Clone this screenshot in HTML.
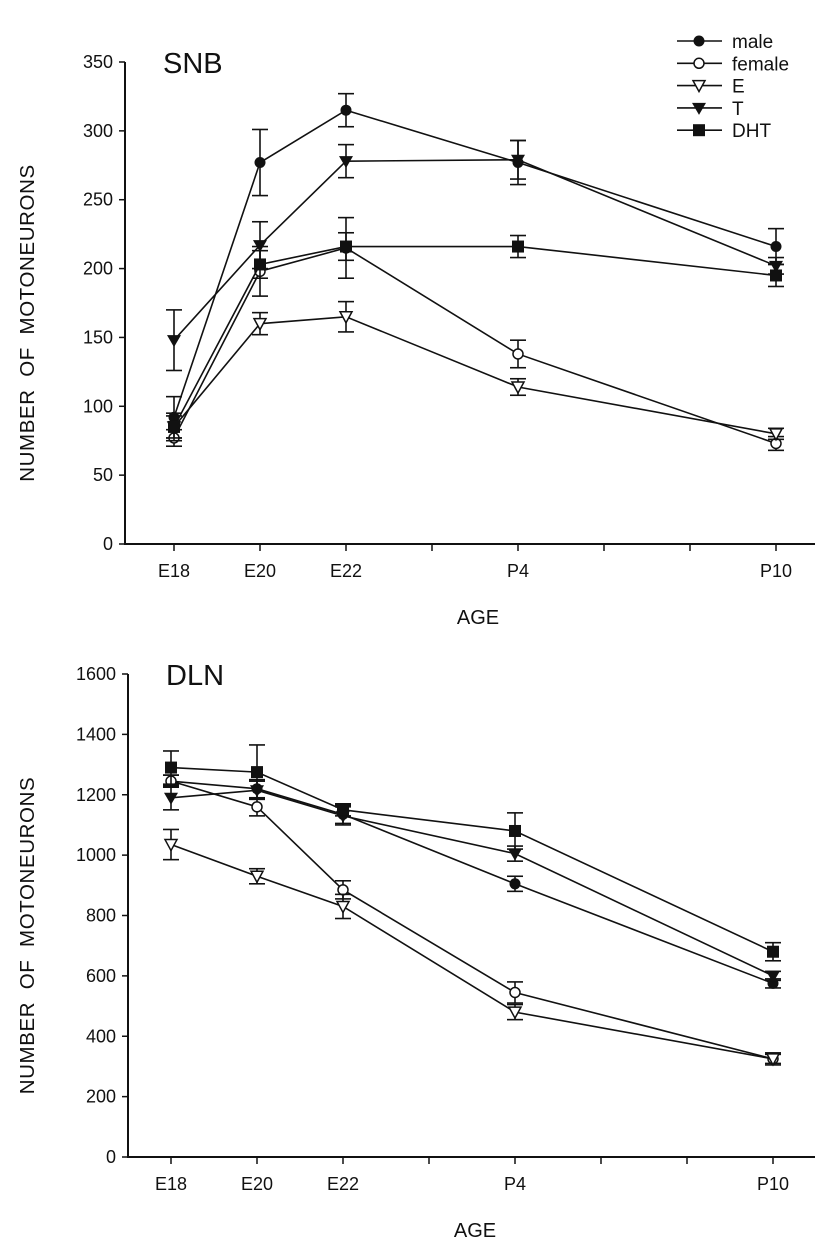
<!DOCTYPE html>
<html><head><meta charset="utf-8"><style>
body{margin:0;background:#fff;}
svg{display:block;font-family:"Liberation Sans",Arial,sans-serif;}
</style></head><body>
<svg id="chart" width="835" height="1255" viewBox="0 0 835 1255"></svg>
<script>
const ages=["E18","E20","E22","P4","P10"];
const agePos=[0,1,2,4,7];
const seriesNames=["male","female","E","T","DHT"];
const snbMale=[92,277,315,277,216];
const snbMaleErr=[15,24,12,16,13];
const snbFemale=[77,198,215,138,73];
const snbFemaleErr=[6,18,22,10,5];
const snbE=[85,160,165,114,80];
const snbEErr=[8,8,11,6,4];
const snbT=[148,217,278,279,202];
const snbTErr=[22,17,12,14,6];
const snbDHT=[85,203,216,216,195];
const snbDHTErr=[10,10,10,8,8];
const dlnMale=[1245,1220,1135,905,575];
const dlnMaleErr=[20,30,30,25,15];
const dlnFemale=[1245,1160,885,545,325];
const dlnFemaleErr=[20,30,30,35,20];
const dlnE=[1035,930,830,480,325];
const dlnEErr=[50,25,40,25,15];
const dlnT=[1190,1215,1130,1005,600];
const dlnTErr=[40,30,30,25,15];
const dlnDHT=[1290,1275,1150,1080,680];
const dlnDHTErr=[55,90,20,60,30];
const snbTicks=[0,50,100,150,200,250,300,350];
const dlnTicks=[0,200,400,600,800,1000,1200,1400,1600];

const NS="http://www.w3.org/2000/svg";
const svg=document.getElementById('chart');
function mk(tag,attrs,parent){const e=document.createElementNS(NS,tag);for(const k in attrs)e.setAttribute(k,attrs[k]);(parent||svg).appendChild(e);return e;}
const markers=["fcircle","ocircle","otri","ftri","fsquare"];
function marker(g,type,x,y){
  let e;
  if(type==="fcircle")e=mk('circle',{cx:x,cy:y,r:5.5,fill:'#111'},g);
  else if(type==="ocircle")e=mk('circle',{cx:x,cy:y,r:5,fill:'#fff',stroke:'#111','stroke-width':1.5},g);
  else if(type==="otri")e=mk('polygon',{points:`${x-6},${y-5} ${x+6},${y-5} ${x},${y+6}`,fill:'#fff',stroke:'#111','stroke-width':1.5},g);
  else if(type==="ftri")e=mk('polygon',{points:`${x-7},${y-5} ${x+7},${y-5} ${x},${y+7}`,fill:'#111'},g);
  else e=mk('rect',{x:x-6,y:y-6,width:12,height:12,fill:'#111'},g);
  
  
}
function panel(cfg){
  const {axX,x0,dx,y0,yTop,yMax,ticks,title,data,errs,name,xEnd}=cfg;
  const g=mk('g',{});
  
  
  const X=i=>x0+agePos[i]*dx;
  const Y=v=>y0-(v/yMax)*(y0-yTop);
  const ya=mk('line',{x1:axX,y1:yTop,x2:axX,y2:y0+1,stroke:'#111','stroke-width':2},g);
  
  const xa=mk('line',{x1:axX-1,y1:y0,x2:xEnd,y2:y0,stroke:'#111','stroke-width':2},g);
  
  ticks.forEach(t=>{
    mk('line',{x1:axX-6,y1:Y(t),x2:axX,y2:Y(t),stroke:'#111','stroke-width':1.5},g);
    const tx=mk('text',{x:axX-12,y:Y(t)+6,'text-anchor':'end','font-size':18,fill:'#111'},g);
    tx.textContent=t;
    
  });
  for(let k=0;k<=7;k++){mk('line',{x1:x0+k*dx,y1:y0,x2:x0+k*dx,y2:y0+7,stroke:'#111','stroke-width':1.5},g);}
  ages.forEach((a,i)=>{
    const tx=mk('text',{x:X(i),y:y0+33,'text-anchor':'middle','font-size':18,fill:'#111'},g);
    tx.textContent=a;
    
  });
  const xt=mk('text',{x:(x0+X(4))/2+3,y:y0+80,'text-anchor':'middle','font-size':20,fill:'#111'},g);
  xt.textContent='AGE';
  const yc=(y0+yTop)/2+20;
  const yt=mk('text',{x:34,y:yc,'text-anchor':'middle','font-size':20.5,fill:'#111','letter-spacing':0.6,transform:`rotate(-90 34 ${yc})`},g);
  yt.textContent='NUMBER\u00a0\u00a0OF\u00a0\u00a0MOTONEURONS';
  const tt=mk('text',{x:axX+38,y:yTop+11,'font-size':29,fill:'#111'},g);
  tt.textContent=title;
  data.forEach((vals,s)=>{
    const sg=mk('g',{},g);
    
    
    const pts=vals.map((v,i)=>X(i)+','+Y(v)).join(' ');
    mk('polyline',{points:pts,fill:'none',stroke:'#111','stroke-width':1.6},sg);
    vals.forEach((v,i)=>{
      const e=errs[s][i],x=X(i);
      mk('line',{x1:x,y1:Y(v-e),x2:x,y2:Y(v+e),stroke:'#111','stroke-width':1.6},sg);
      mk('line',{x1:x-8,y1:Y(v+e),x2:x+8,y2:Y(v+e),stroke:'#111','stroke-width':1.6},sg);
      mk('line',{x1:x-8,y1:Y(v-e),x2:x+8,y2:Y(v-e),stroke:'#111','stroke-width':1.6},sg);
    });
    vals.forEach((v,i)=>marker(sg,markers[s],X(i),Y(v)));
  });
}
panel({name:'snb',axX:125,x0:174,dx:86,y0:544,yTop:62,yMax:350,ticks:snbTicks,title:'SNB',xEnd:815,
  data:[snbMale,snbFemale,snbE,snbT,snbDHT],errs:[snbMaleErr,snbFemaleErr,snbEErr,snbTErr,snbDHTErr]});
panel({name:'dln',axX:128,x0:171,dx:86,y0:1157,yTop:674,yMax:1600,ticks:dlnTicks,title:'DLN',xEnd:815,
  data:[dlnMale,dlnFemale,dlnE,dlnT,dlnDHT],errs:[dlnMaleErr,dlnFemaleErr,dlnEErr,dlnTErr,dlnDHTErr]});
// legend
const lg=mk('g',{});


seriesNames.forEach((n,i)=>{
  const y=41+i*22.3;
  const eg=mk('g',{},lg);
  
  
  mk('line',{x1:677,y1:y,x2:722,y2:y,stroke:'#111','stroke-width':1.6},eg);
  marker(eg,markers[i],699,y);
  const t=mk('text',{x:732,y:y+7,'font-size':19,fill:'#111'},eg);
  t.textContent=n;
});
</script>
</body></html>
